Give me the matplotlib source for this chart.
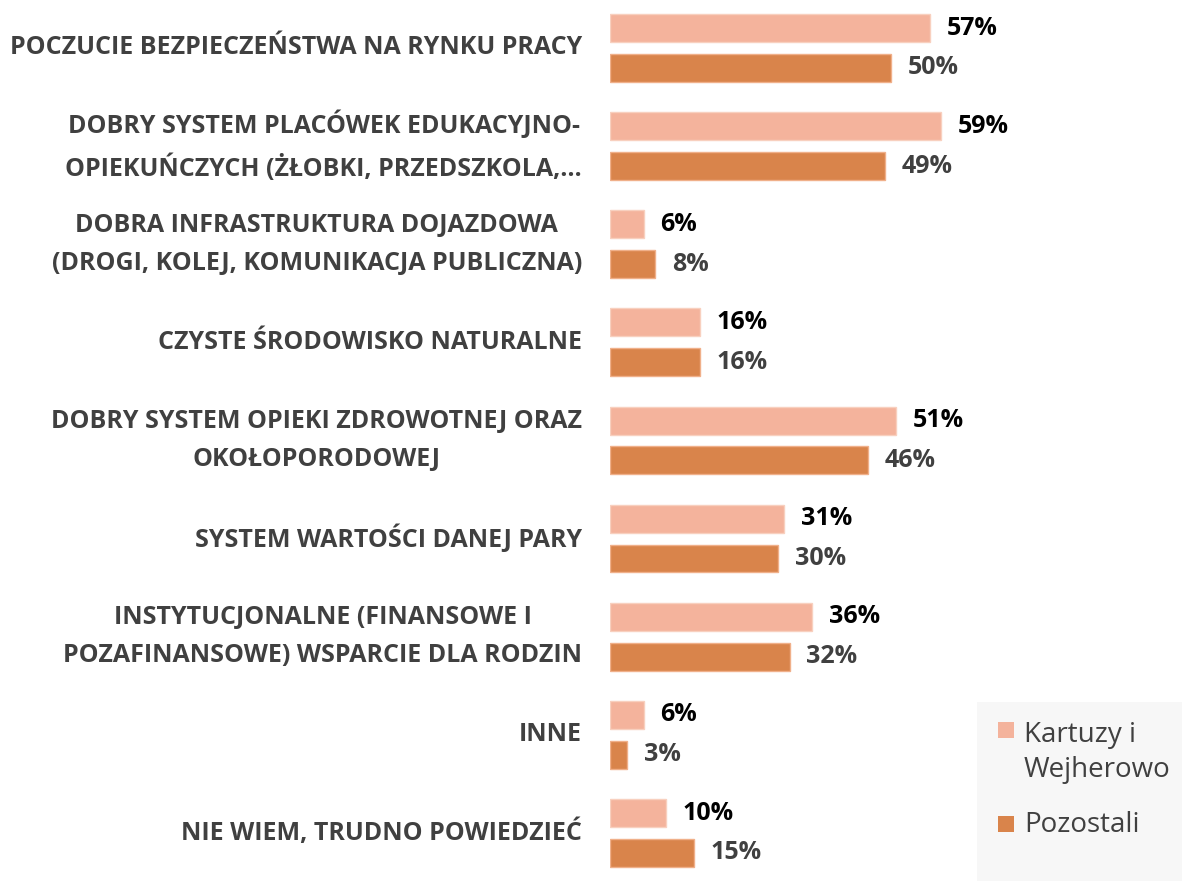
import matplotlib
matplotlib.use('Agg')
import matplotlib.pyplot as plt
from matplotlib.patches import Rectangle

plt.rcParams['font.family'] = ['Open Sans', 'DejaVu Sans']

CATEGORIES = [
    'POCZUCIE BEZPIECZEŃSTWA NA RYNKU PRACY',
    'DOBRY SYSTEM PLACÓWEK EDUKACYJNO-\nOPIEKUŃCZYCH (ŻŁOBKI, PRZEDSZKOLA,…',
    'DOBRA INFRASTRUKTURA DOJAZDOWA\n(DROGI, KOLEJ, KOMUNIKACJA PUBLICZNA)',
    'CZYSTE ŚRODOWISKO NATURALNE',
    'DOBRY SYSTEM OPIEKI ZDROWOTNEJ ORAZ\nOKOŁOPORODOWEJ',
    'SYSTEM WARTOŚCI DANEJ PARY',
    'INSTYTUCJONALNE (FINANSOWE I\nPOZAFINANSOWE) WSPARCIE DLA RODZIN',
    'INNE',
    'NIE WIEM, TRUDNO POWIEDZIEĆ',
]
KARTUZY = [57, 59, 6, 16, 51, 31, 36, 6, 10]
POZOSTALI = [50, 49, 8, 16, 46, 30, 32, 3, 15]
SERIES = ['Kartuzy i\nWejherowo', 'Pozostali']

LIGHT = '#F4B39C'
DARK = '#D9844B'
GRAY = '#404040'

fig = plt.figure(figsize=(11.82, 8.81), dpi=100)
ax = fig.add_axes([610 / 1182, 0, 572 / 1182, 1])

pos = list(range(len(CATEGORIES)))
off = 0.203
h = 0.285
b1 = ax.barh([p - off for p in pos], KARTUZY, height=h, color=LIGHT,
             edgecolor='#F8D0BF', linewidth=1)
b2 = ax.barh([p + off for p in pos], POZOSTALI, height=h, color=DARK,
             edgecolor='#F0B08A', linewidth=1)

for bar, val in zip(b1, KARTUZY):
    ax.text(val + 3, bar.get_y() + bar.get_height() / 2, f'{val}%',
            va='center', ha='left', fontsize=18, fontweight='bold', color='black')
for bar, val in zip(b2, POZOSTALI):
    ax.text(val + 3, bar.get_y() + bar.get_height() / 2, f'{val}%',
            va='center', ha='left', fontsize=18, fontweight='bold', color=GRAY)

for p, cat in zip(pos, CATEGORIES):
    ax.text(-5, p, cat, ha='right', va='center', multialignment='center',
            fontsize=18, fontweight='bold', color=GRAY, linespacing=1.7)

ax.set_xlim(0, 572 / 5.61)
ax.set_ylim(8.49, -0.489)
ax.axis('off')

# legend box
fig.patches.append(Rectangle((977 / 1182, 0), 205 / 1182, 179 / 881,
                             transform=fig.transFigure, facecolor='#F7F7F7',
                             edgecolor='none', zorder=0))
for (y, ytxt, col, lab) in [(738, 777, LIGHT, SERIES[0]), (832, 832, DARK, SERIES[1])]:
    fig.patches.append(Rectangle((998 / 1182, 1 - y / 881), 16 / 1182, 16 / 881,
                                 transform=fig.transFigure, facecolor=col,
                                 edgecolor='none'))
    fig.text(1024 / 1182, 1 - ytxt / 881, lab, ha='left', va='baseline',
             fontsize=20, color=GRAY, linespacing=1.35)

fig.savefig('out.png', dpi=100)
